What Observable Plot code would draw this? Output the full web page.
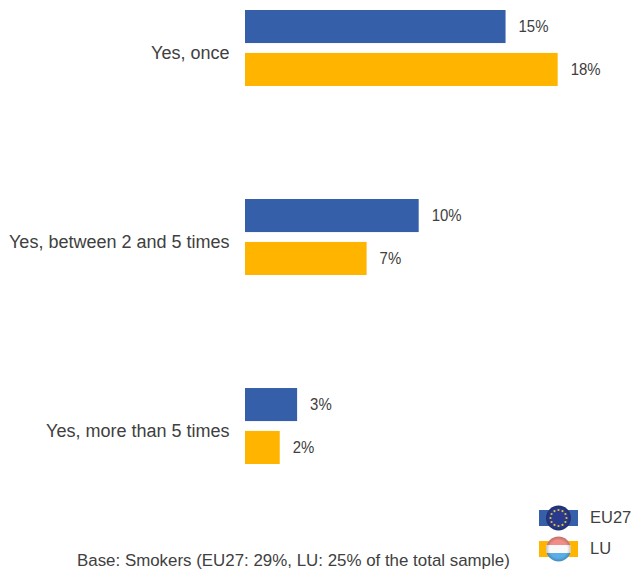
<!DOCTYPE html>
<html><head><meta charset="utf-8">
<script src="https://cdn.jsdelivr.net/npm/d3@7"></script>
<script src="https://cdn.jsdelivr.net/npm/@observablehq/plot@0.6"></script>
<style>
html,body{margin:0;padding:0;background:#fff;overflow:hidden}
svg{display:block}
#wrap{position:relative;width:633px;height:572px;font-family:'Liberation Sans',Arial,sans-serif;color:#404040}
#legend{position:absolute;left:539px;top:502px}
.row{display:flex;align-items:center;height:31px;font-size:16.5px}
.row span{margin-left:12px}
#note{position:absolute;left:77px;top:551px;font-size:16.9px;white-space:nowrap;line-height:20px}
</style>
</head><body><div id="wrap"><div id="c"></div><div id="legend"></div><div id="note"></div></div>
<script>
const categories = ["Yes, once", "Yes, between 2 and 5 times", "Yes, more than 5 times"];
const series = ["EU27", "LU"];
const eu27 = [15, 10, 3];
const lu = [18, 7, 2];
const colors = ["#3560A9", "#FFB400"];
const note = "Base: Smokers (EU27: 29%, LU: 25% of the total sample)";
const rows = categories.flatMap((c, i) => [
  {c, s: series[0], v: eu27[i]},
  {c, s: series[1], v: lu[i]}
]);
const ff = "'Liberation Sans', Arial, sans-serif";
const plot = Plot.plot({
  width: 633, height: 500, marginLeft: 245, marginRight: 0, marginTop: 10, marginBottom: 36,
  style: {fontFamily: ff, fontSize: "17px", color: "#404040", background: "#fff"},
  x: {domain: [0, 388 / 17.37], axis: null},
  y: {domain: series, axis: null, padding: 0.23, paddingOuter: 0, round: false},
  fy: {domain: categories, padding: 0.598, paddingOuter: 0, round: false, axis: null},
  color: {domain: series, range: colors},
  marks: [
    Plot.barX(rows, {fy: "c", y: "s", x: "v", fill: "s"}),
    Plot.text(rows, {fy: "c", y: "s", x: "v", text: d => d.v + "%", textAnchor: "start", dx: 12.5, dy: 0, fontSize: 17, fill: "#404040", className: "value-label"}),
    Plot.axisFy({anchor: "left", tickSize: 0, tickPadding: 16, dy: 5, label: null, fontSize: 18, fill: "#404040"})
  ]
});
document.getElementById("c").append(plot);
document.getElementById("note").textContent = note;

// The value labels are set slightly condensed, as in the source image
plot.querySelectorAll(".value-label text").forEach(t => {
  t.setAttribute("textLength", (t.getComputedTextLength() * 0.88).toFixed(1));
  t.setAttribute("lengthAdjust", "spacingAndGlyphs");
});

// Legend keys: a bar swatch behind a round flag badge
const legend = d3.select("#legend");
series.forEach((name, i) => {
  const row = legend.append("div").attr("class", "row");
  const svg = row.append("svg").attr("width", 39).attr("height", 26).attr("viewBox", "0 0 39 26");
  svg.append("rect").attr("y", 5).attr("width", 39).attr("height", 16).attr("fill", colors[i]);
  const clip = "clip" + i;
  svg.append("clipPath").attr("id", clip).append("circle").attr("cx", 19.5).attr("cy", 13).attr("r", 12.5);
  const g = svg.append("g").attr("clip-path", `url(#${clip})`);
  if (name === "EU27") {
    g.append("rect").attr("width", 39).attr("height", 26).attr("fill", "#2a3a8c");
    d3.range(12).forEach(k => {
      const a = k * Math.PI / 6;
      g.append("circle").attr("cx", 19.5 + 8 * Math.cos(a)).attr("cy", 13 + 8 * Math.sin(a)).attr("r", 1.1).attr("fill", "#d9c53c");
    });
  } else {
    g.append("rect").attr("width", 39).attr("height", 9).attr("fill", "#ef8d86");
    g.append("rect").attr("y", 9).attr("width", 39).attr("height", 8).attr("fill", "#f9f9f9");
    g.append("rect").attr("y", 17).attr("width", 39).attr("height", 9).attr("fill", "#5aaee8");
  }
  // Soft sphere shading over the flag
  const grad = "shade" + i;
  const rg = svg.append("radialGradient").attr("id", grad).attr("gradientUnits", "userSpaceOnUse")
    .attr("cx", 19.5).attr("cy", 13).attr("r", 12.5);
  rg.append("stop").attr("offset", "0.7").attr("stop-color", "#000").attr("stop-opacity", 0);
  rg.append("stop").attr("offset", "1").attr("stop-color", "#000").attr("stop-opacity", 0.22);
  g.append("circle").attr("cx", 19.5).attr("cy", 13).attr("r", 12.5).attr("fill", `url(#${grad})`);
  row.append("span").text(name);
});
</script></body></html>
